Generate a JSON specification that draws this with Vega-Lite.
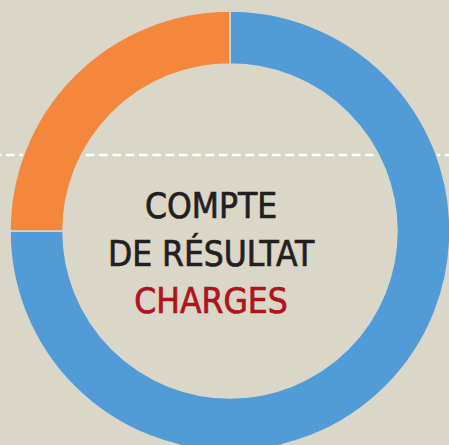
{
  "$schema": "https://vega.github.io/schema/vega-lite/v6.json",
  "width": 449,
  "height": 445,
  "autosize": {"type": "none"},
  "padding": 0,
  "background": "#dad7c9",
  "config": {"view": {"stroke": null}},
  "layer": [
    {
      "data": {"values": [{"ligne": "pointillés"}]},
      "mark": {"type": "rule", "stroke": "#ffffff", "strokeWidth": 2.5, "strokeDash": [8.5, 4.8], "strokeDashOffset": 4.5},
      "encoding": {"y": {"value": 155}}
    },
    {
      "data": {"values": [
        {"poste": "Poste 1", "part": 75, "rang": 1},
        {"poste": "Poste 2", "part": 25, "rang": 2}
      ]},
      "mark": {"type": "arc", "radius": 220, "radius2": 167, "xOffset": 5.5, "yOffset": 8.5, "stroke": "#dad7c9", "strokeWidth": 1.5},
      "encoding": {
        "theta": {"field": "part", "type": "quantitative", "stack": true},
        "order": {"field": "rang", "type": "quantitative"},
        "color": {"field": "poste", "type": "nominal", "legend": null,
          "scale": {"domain": ["Poste 1", "Poste 2"], "range": ["#519bd6", "#f5873c"]}}
      }
    },
    {
      "data": {"values": [
        {"ligne": 1, "texte": "COMPTE", "style": "titre"},
        {"ligne": 2, "texte": "DE RÉSULTAT", "style": "titre"},
        {"ligne": 3, "texte": "CHARGES", "style": "accent"}
      ]},
      "mark": {"type": "text", "font": "DejaVu Sans Condensed", "fontSize": 35, "align": "center", "baseline": "alphabetic", "xOffset": -13.5, "strokeWidth": 0.7},
      "encoding": {
        "y": {"field": "ligne", "type": "ordinal", "axis": null, "scale": {"type": "point", "range": [218, 313], "padding": 0}},
        "text": {"field": "texte"},
        "color": {"field": "style", "type": "nominal", "legend": null,
          "scale": {"domain": ["titre", "accent"], "range": ["#231f20", "#b0131d"]}},
        "stroke": {"field": "style", "type": "nominal", "legend": null,
          "scale": {"domain": ["titre", "accent"], "range": ["#231f20", "#b0131d"]}}
      }
    }
  ],
  "resolve": {"scale": {"color": "independent", "stroke": "independent"}}
}
